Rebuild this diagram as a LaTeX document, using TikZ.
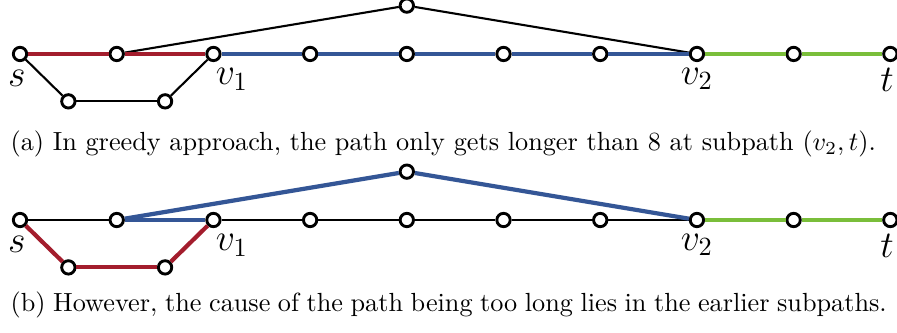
\documentclass[tikz,border=0pt]{standalone}
\usetikzlibrary{positioning}
\definecolor{pathRed}{RGB}{163,29,45}
\definecolor{pathBlue}{RGB}{52,86,150}
\definecolor{pathGreen}{RGB}{122,190,58}

\begin{document}
\begin{tikzpicture}
[lineDecorate/.style={-,thick},%
  redDecorate/.style={-,line width=1.6pt,pathRed},
  blueDecorate/.style={-,line width=1.6pt,pathBlue},
  greenDecorate/.style={-,line width=1.6pt,pathGreen},
  nodeDecorate/.style={shape=circle,inner sep=1.8pt,draw,line width=1.1pt,fill=white},
  labelDecorate/.style={font=\Large,inner sep=1pt},
  x=1.2955cm,y=1.2955cm]
\useasboundingbox (-0.207,0.558) rectangle (9.069,-2.885);
%% nodes or vertices
\foreach \g/\dy in {a/0,b/-1.717}
{
  \foreach \nodename/\x/\y in {
    0/0/0, 1/1/0, 2/2/0, 3/3/0, 4/4/0, 5/5/0, 6/6/0, 7/7/0, 8/8/0, 9/9/0,
    10/0.5/-0.49, 11/1.5/-0.49, 12/4/0.5}
  {
    \node (\g\nodename) at (\x,\y+\dy) [nodeDecorate] {};
  }
  %% labels
  \node (\g s) [labelDecorate,below left=2.8pt and -5.5pt of \g0] {$s$};
  \node (\g v1) [labelDecorate,below right=2pt and -2.5pt of \g2] {$v_1$};
  \node (\g v2) [labelDecorate,below=1pt of \g7] {$v_2$};
  \node (\g t) [labelDecorate,below left=2pt and -4.7pt of \g9] {$t$};
}
%% edges or lines, greedy
\path
\foreach \startnode/\endnode/\look in {
  a0/a10/lineDecorate, a10/a11/lineDecorate, a11/a2/lineDecorate,
  a1/a12/lineDecorate, a12/a7/lineDecorate,
  a0/a1/redDecorate, a1/a2/redDecorate,
  a2/a3/blueDecorate, a3/a4/blueDecorate, a4/a5/blueDecorate,
  a5/a6/blueDecorate, a6/a7/blueDecorate,
  a7/a8/greenDecorate, a8/a9/greenDecorate}
{
  (\startnode) edge[\look] (\endnode)
};
%% edges or lines, earlier subpaths
\path
\foreach \startnode/\endnode/\look in {
  b0/b1/lineDecorate, b2/b3/lineDecorate, b3/b4/lineDecorate,
  b4/b5/lineDecorate, b5/b6/lineDecorate, b6/b7/lineDecorate,
  b0/b10/redDecorate, b10/b11/redDecorate, b11/b2/redDecorate,
  b1/b12/blueDecorate, b12/b7/blueDecorate, b1/b2/blueDecorate,
  b7/b8/greenDecorate, b8/b9/greenDecorate}
{
  (\startnode) edge[\look] (\endnode)
};
%% captions
\node (capa) [anchor=west,inner sep=0pt] at (-0.103,-0.931)
  {(a) In greedy approach, the path only gets longer than 8 at subpath $(v_2,t)$.};
\node (capb) [anchor=west,inner sep=0pt] at (-0.103,-2.596)
  {\hbox to 334pt{(b) However, the cause of the path being too long lies in the earlier subpaths.}};
\end{tikzpicture}
\end{document}
